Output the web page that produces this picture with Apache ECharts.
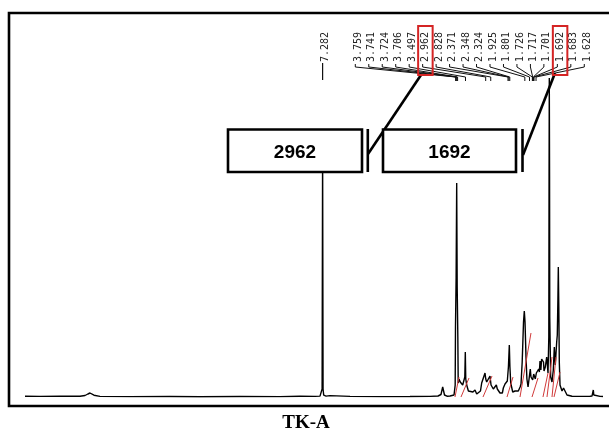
<!DOCTYPE html>
<html>
<head>
<meta charset="utf-8">
<script src="https://cdn.jsdelivr.net/npm/echarts@6/dist/echarts.min.js"></script>
<style>html,body{margin:0;padding:0;background:#fff;}#c{width:609px;height:437px;}</style>
</head>
<body>
<div id="c"></div>
<script>
// ---- data (chemical shift in ppm, intensity in arbitrary units) ----
const spectrumPpm = [
 15.166,14.768,14.238,13.709,13.576,13.50,13.444,13.40,13.338,13.179,12.384,11.325,10.530,9.470,8.411,7.881,7.483,7.351,7.311,7.295,7.282,7.270,7.253,7.192,7.086,6.556,5.762,4.967,4.437,4.225,4.146,4.101,4.053,3.987,3.907,3.801,3.770,3.762,3.745,3.730,3.717,3.700,3.690,3.669,3.636,3.600,3.571,3.536,3.515,3.502,3.490,3.465,3.420,3.377,3.300,3.245,3.200,3.166,3.100,3.068,3.020,2.980,2.960,2.935,2.890,2.848,2.820,2.803,2.760,2.715,2.680,2.654,2.620,2.583,2.520,2.495,2.450,2.389,2.360,2.336,2.320,2.299,2.246,2.185,2.140,2.098,2.050,2.026,1.995,1.960,1.939,1.920,1.894,1.870,1.840,1.807,1.780,1.762,1.740,1.717,1.690,1.670,1.648,1.620,1.600,1.580,1.558,1.540,1.523,1.500,1.480,1.452,1.430,1.417,1.383,1.346,1.311,1.290,1.283,1.277,1.270,1.265,1.240,1.205,1.171,1.144,1.118,1.081,1.065,1.050,1.038,1.025,1.012,0.993,0.940,0.900,0.887,0.808,0.675,0.464,0.200,0.146,0.125,0.111,0.098,0.066,-0.066,-0.146
];
const spectrumIntensity = [
 0.8,0.6,0.9,0.7,1.5,3.0,4.0,3.2,1.8,0.6,0.4,0.5,0.3,0.5,0.4,0.8,0.6,0.9,1.5,8,250,8,1.8,0.9,1.4,0.6,0.4,0.5,0.6,1.0,2.5,10,2.0,0.8,1.0,2.0,12,70,120,214,110,60,14,18,15,13,12,14,20,45,18,12,6,4,5,7,3,3,6,14,16,24,18,15,17,21,12,10,8,10,12,8,6,4,4,9,13,16,30,52,30,14,5,6,5,6,10,13,35,75,86,75,40,18,10,12,28,20,22,17,23,21,18,24,24,22,28,25,36,27,38,40,35,26,30,40,24,60,222,319,220,80,20,15,27,50,32,55,62,95,130,90,35,12,6,9,7,2,0.8,0.6,0.7,0.9,2,7,2,0.8,0.6,0.5
];
// integration curves: start ppm, end ppm, rise
const integralStart = [3.775,3.616,3.033,2.397,2.053,1.735,1.444,1.338,1.205,1.152];
const integralEnd   = [3.669,3.404,2.795,2.238,1.762,1.576,1.311,1.205,1.099,0.993];
const integralRise  = [20,19,21,20,64,19,24,40,40,25];
// peak pick labels
const solventLabel = "7.282";
const peakLabels = ["3.759","3.741","3.724","3.706","3.497","2.962","2.828","2.371","2.348","2.324","1.925","1.801","1.726","1.717","1.701","1.692","1.683","1.628"];
const highlightedLabels = ["2.962","1.692"];
const calloutTexts = ["2962","1692"];
const titleText = "TK-A";

const chart = echarts.init(document.getElementById('c'), null, {renderer:'canvas'});

const series = [{
  type:'line', data: spectrumPpm.map((p,i)=>[p, spectrumIntensity[i]]),
  showSymbol:false, symbol:'none', lineStyle:{color:'#000', width:1.4}, z:3, silent:true
}];
integralStart.forEach((s,i)=>{
  series.push({type:'line', data:[[s,0],[integralEnd[i],integralRise[i]]], showSymbol:false, symbol:'none',
    lineStyle:{color:'#d03a3a', width:1}, z:4, silent:true});
});

chart.setOption({
  animation:false,
  backgroundColor:'#fff',
  grid:{left:0,right:0,top:0,bottom:40},
  xAxis:{type:'value', inverse:true, min:-0.3046, max:15.828, show:false},
  yAxis:{type:'value', min:0, max:397, show:false},
  series: series
});

function px(ppm){ return chart.convertToPixel({xAxisIndex:0}, ppm); }

const g = [];
// frame
g.push({type:'polyline', z:100, shape:{points:[[609,13],[9,13],[9,406],[609,406]]}, style:{stroke:'#000', lineWidth:2.6, fill:null}});
// solvent label
const sx = px(parseFloat(solventLabel));
g.push({type:'line', z:100, shape:{x1:sx,y1:63,x2:sx,y2:80}, style:{stroke:'#111', lineWidth:1.2}});
g.push({type:'text', z:100, x:sx+3, y:62, rotation:Math.PI/2, style:{text:solventLabel, fontFamily:'DejaVu Sans Mono', fontSize:10, fill:'#222', align:'left', verticalAlign:'middle'}});
// peak labels
const lx0 = 358.3, ldx = 13.47;
peakLabels.forEach((lab,i)=>{
  const x = lx0 + ldx*i;
  const pxv = px(parseFloat(lab));
  g.push({type:'text', z:100, x:x, y:62, rotation:Math.PI/2, style:{text:lab, fontFamily:'DejaVu Sans Mono', fontSize:10, fill:'#222', align:'left', verticalAlign:'middle'}});
  g.push({type:'polyline', z:100, shape:{points:[[x-3,64],[x-3,67],[pxv,77],[pxv,81]]}, style:{stroke:'#111', lineWidth:1, fill:null}});
  if (highlightedLabels.indexOf(lab) >= 0) {
    g.push({type:'rect', z:101, shape:{x:x-7.5, y:26, width:14.5, height:49}, style:{stroke:'#d42424', lineWidth:2, fill:null}});
  }
});
// callout boxes
const boxes = [{x:228,w:134,bar:367.8,line:[[368,154],[421,75]]},{x:383,w:133,bar:522.5,line:[[523,155],[555,73]]}];
calloutTexts.forEach((t,i)=>{
  const b = boxes[i];
  g.push({type:'rect', z:100, shape:{x:b.x, y:129.5, width:b.w, height:42.5}, style:{stroke:'#000', lineWidth:2.6, fill:'#fff'}});
  g.push({type:'text', z:101, x:b.x+b.w/2, y:153, style:{text:t, fontFamily:'Liberation Sans', fontWeight:'bold', fontSize:19, fill:'#000', align:'center', verticalAlign:'middle'}});
  g.push({type:'line', z:100, shape:{x1:b.bar,y1:129,x2:b.bar,y2:172}, style:{stroke:'#000', lineWidth:2.6}});
  g.push({type:'line', z:100, shape:{x1:b.line[0][0],y1:b.line[0][1],x2:b.line[1][0],y2:b.line[1][1]}, style:{stroke:'#000', lineWidth:2.6}});
});
// title
g.push({type:'text', z:100, x:306, y:423, style:{text:titleText, fontFamily:'Liberation Serif', fontWeight:'bold', fontSize:19, fill:'#000', align:'center', verticalAlign:'middle'}});

chart.setOption({graphic:g});
</script>
</body>
</html>
